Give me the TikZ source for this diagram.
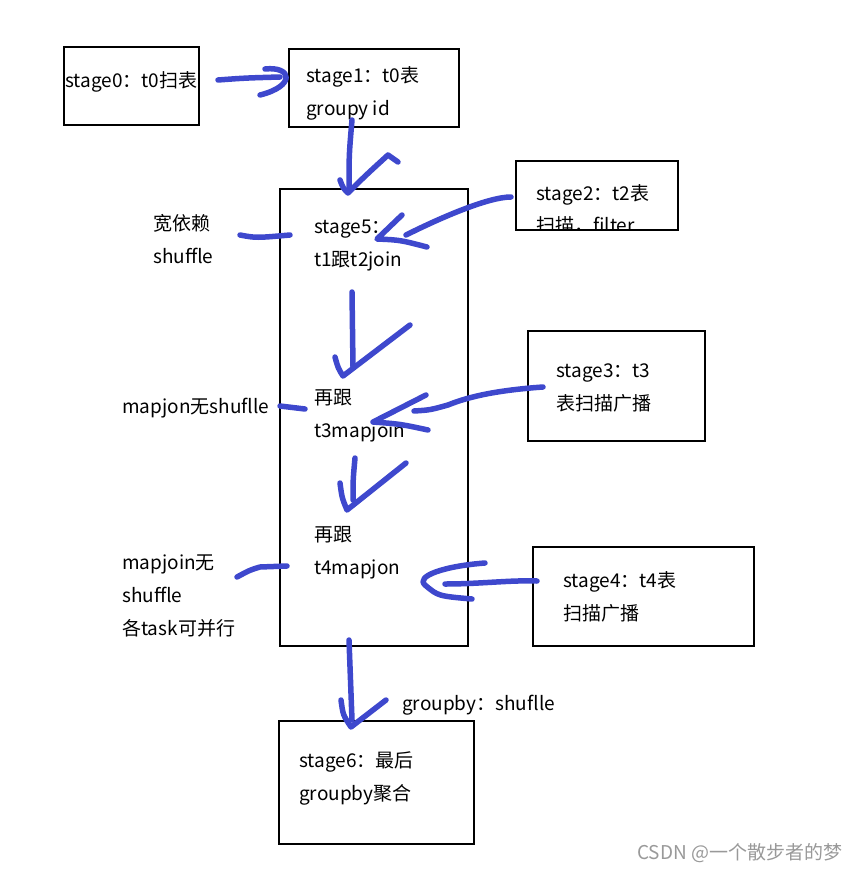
\documentclass[tikz,border=0pt]{standalone}
\usepackage{fontspec}
\setmainfont{Noto Sans CJK SC}
\usetikzlibrary{positioning}
\definecolor{penblue}{RGB}{62,72,205}

\begin{document}
\begin{tikzpicture}[x=1pt,y=-1pt,
  font=\fontsize{19}{33}\selectfont,
  stagebox/.style={draw,line width=1.8pt,anchor=north west,inner sep=0pt},
  txt/.style={anchor=base west,inner sep=0pt,align=left},
  pen/.style={draw=penblue,line width=5.5pt,line cap=round,line join=round}
]
\useasboundingbox (0,0) rectangle (864,872);

% ---------- stage boxes
\node[stagebox,minimum width=135pt,minimum height=78pt] (s0) at (63,46) {};
\node[stagebox,minimum width=170pt,minimum height=78pt] (s1) at (288,48) {};
\node[stagebox,minimum width=188pt,minimum height=457pt] (s5) at (279,188) {};
\node[stagebox,minimum width=162pt,minimum height=69pt] (s2) at (515,160) {};
\node[stagebox,minimum width=177pt,minimum height=110pt] (s3) at (527,330) {};
\node[stagebox,minimum width=221pt,minimum height=99pt] (s4) at (532,546) {};
\node[stagebox,minimum width=195pt,minimum height=123pt] (s6) at (278,720) {};

% ---------- texts in the boxes (base = last line)
\node[txt] (t0) at (65,88) {stage0：t0扫表};
\node[txt] (t1) at (306,116) {stage1：t0表\\groupy id};
\node[txt] (t5a) at (314,266) {stage5：\\t1跟t2join};
\node[txt] (t5b) at (314,437) {再跟\\t3mapjoin};
\node[txt] (t5c) at (314,574) {再跟\\t4mapjon};
\begin{scope}
  \clip (s2.north west) rectangle (s2.south east);
  \node[txt,font=\fontsize{19}{32}\selectfont] (t2) at (536,232) {stage2：t2表\\扫描，filter};
\end{scope}
\node[txt] (t3) at (556,410) {stage3：t3\\表扫描广播};
\node[txt] (t4) at (563,620) {stage4：t4表\\扫描广播};
\node[txt] (t6) at (299,800) {stage6：最后\\groupby聚合};

% ---------- side notes
\node[txt] (wide) at (153,263) {宽依赖\\shuffle};
\node[txt] (map3) at (122,413) {mapjon无shuflle};
\node[txt] (map4) at (122,635) {mapjoin无\\shuffle\\各task可并行};
\node[txt] (grp) at (402,710) {groupby：shuflle};
\node[txt,text=black!40,font=\fontsize{19}{20}\selectfont] (mark) at (637,859) {CSDN @一个散步者的梦};

% ---------- pen strokes
% stage0 -> stage1
\path[pen] (218,80) .. controls (245,78) .. (280,77);
\path[pen] (265,69) .. controls (292,66) and (296,86) .. (260,95);
% stage1 -> stage5
\path[pen] (352,120) .. controls (349,155) .. (349,190);
\path[pen] (340,180) .. controls (343,188) .. (348,193) .. controls (365,176) .. (388,155) -- (398,162);
% stage2 -> stage5
\path[pen] (511,197) .. controls (488,197) and (440,218) .. (406,235);
\path[pen] (402,215) -- (377,239) .. controls (400,240) .. (427,247);
\path[pen] (240,235) .. controls (256,238) .. (290,235);
% t1 join -> t3 mapjoin
\path[pen] (352,292) .. controls (353,330) .. (353,367);
\path[pen] (335,357) .. controls (338,368) .. (343,376) -- (410,325);
% stage3 -> stage5
\path[pen] (543,387) .. controls (500,390) and (470,396) .. (448,405) .. controls (430,410) .. (414,411);
\path[pen] (426,395) -- (373,422) .. controls (400,424) .. (428,430);
\path[pen] (280,406) -- (305,409);
% t3 mapjoin -> t4 mapjon
\path[pen] (355,458) .. controls (353,480) .. (353,500);
\path[pen] (340,483) .. controls (342,498) .. (347,510) -- (406,463);
% stage4 -> stage5
\path[pen] (537,581) .. controls (510,580) and (480,584) .. (445,584);
\path[pen] (485,563) .. controls (445,566) and (415,576) .. (425,585) .. controls (438,596) .. (472,599);
\path[pen] (237,577) .. controls (250,570) .. (260,567) -- (287,566);
% stage5 -> stage6
\path[pen] (349,640) .. controls (350,680) .. (352,720);
\path[pen] (341,700) .. controls (343,715) .. (351,727) -- (386,700);
\end{tikzpicture}
\end{document}
